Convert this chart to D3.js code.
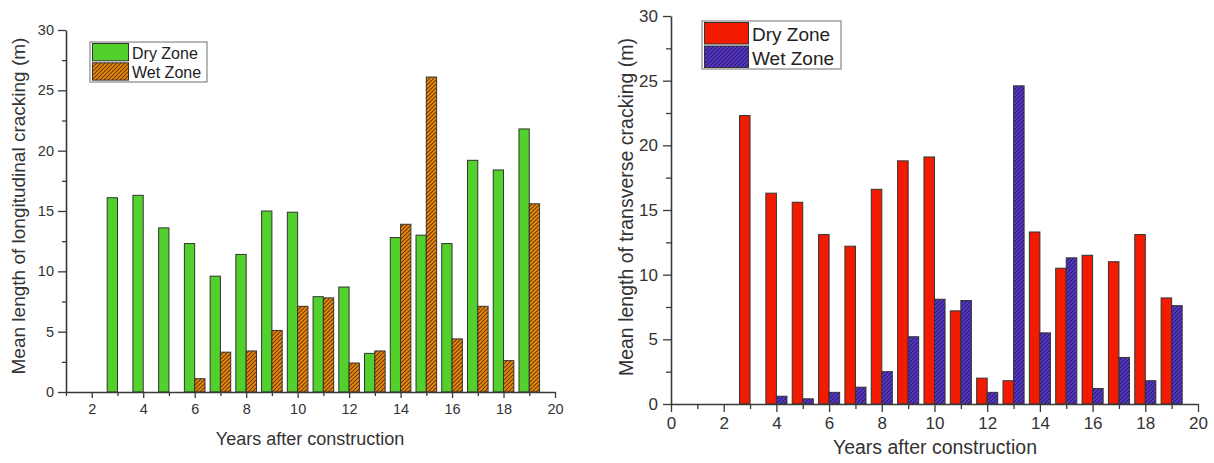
<!DOCTYPE html>
<html>
<head>
<meta charset="utf-8">
<script src="https://cdn.jsdelivr.net/npm/d3@7"></script>
<style>
  html, body { margin: 0; padding: 0; background: #fff; }
  svg { display: block; font-family: "Liberation Sans", Arial, sans-serif; }
</style>
</head>
<body>
<svg id="chart" width="1214" height="463"></svg>
<script>
// ---------- data ----------
const years = [3,4,5,6,7,8,9,10,11,12,13,14,15,16,17,18,19];
const longDry = [16.1,16.3,13.6,12.3,9.6,11.4,15.0,14.9,7.9,8.7,3.2,12.8,13.0,12.3,19.2,18.4,21.8];
const longWet = [null,null,null,1.1,3.3,3.4,5.1,7.1,7.8,2.4,3.4,13.9,26.1,4.4,7.1,2.6,15.6];
const transDry = [22.3,16.3,15.6,13.1,12.2,16.6,18.8,19.1,7.2,2.0,1.8,13.3,10.5,11.5,11.0,13.1,8.2];
const transWet = [null,0.6,0.4,0.9,1.3,2.5,5.2,8.1,8.0,0.9,24.6,5.5,11.3,1.2,3.6,1.8,7.6];
const seriesNames = ["Dry Zone", "Wet Zone"];
const leftXTicks = [2,4,6,8,10,12,14,16,18,20];
const rightXTicks = [0,2,4,6,8,10,12,14,16,18,20];
const yTicks = [0,5,10,15,20,25,30];
const xTitle = "Years after construction";
const leftYTitle = "Mean length of longitudinal cracking (m)";
const rightYTitle = "Mean length of transverse cracking (m)";

const svg = d3.select("#chart");
const defs = svg.append("defs");

function hatch(id, base, line) {
  const p = defs.append("pattern").attr("id", id)
    .attr("patternUnits", "userSpaceOnUse").attr("width", 4).attr("height", 4);
  p.append("rect").attr("width", 4).attr("height", 4).attr("fill", base);
  p.append("path").attr("d", "M-1,1 l2,-2 M0,4 l4,-4 M3,5 l2,-2")
    .attr("stroke", line).attr("stroke-width", 1.1);
}
hatch("hOrange", "#ee8a10", "#6a3a00");
hatch("hBlue", "#5a3cc4", "#2a1478");

const axisColor = "#3a3a3a";

function drawChart(cfg) {
  const g = svg.append("g");
  const x = d3.scaleLinear().domain(cfg.xDomain).range(cfg.xRange);
  const y = d3.scaleLinear().domain([0, 30]).range(cfg.yRange);
  const barW = 0.4;

  // bars
  const dryData = years.map((yr, i) => ({yr, v: cfg.dry[i]})).filter(d => d.v != null);
  const wetData = years.map((yr, i) => ({yr, v: cfg.wet[i]})).filter(d => d.v != null);
  g.selectAll(".dry").data(dryData).enter().append("rect")
    .attr("x", d => x(d.yr - barW)).attr("width", d => x(d.yr) - x(d.yr - barW))
    .attr("y", d => y(d.v)).attr("height", d => y(0) - y(d.v))
    .attr("fill", cfg.dryFill).attr("stroke", "#333").attr("stroke-width", 1);
  g.selectAll(".wet").data(wetData).enter().append("rect")
    .attr("x", d => x(d.yr)).attr("width", d => x(d.yr + barW) - x(d.yr))
    .attr("y", d => y(d.v)).attr("height", d => y(0) - y(d.v))
    .attr("fill", cfg.wetFill).attr("stroke", "#333").attr("stroke-width", 1);

  // minor ticks
  const xMinor = d3.range(cfg.xDomain[0], 21).filter(v => v % 2 !== 0);
  const yMinor = d3.range(2.5, 30, 5);
  g.append("g").attr("transform", `translate(0,${y(0)})`)
    .call(d3.axisBottom(x).tickValues(xMinor).tickSize(cfg.minorTick).tickFormat(""))
    .call(a => a.select(".domain").remove())
    .selectAll("line").attr("stroke", axisColor).attr("stroke-width", 1.3);
  g.append("g").attr("transform", `translate(${x(cfg.xDomain[0])},0)`)
    .call(d3.axisLeft(y).tickValues(yMinor).tickSize(cfg.minorTick).tickFormat(""))
    .call(a => a.select(".domain").remove())
    .selectAll("line").attr("stroke", axisColor).attr("stroke-width", 1.3);

  // major axes
  const xa = g.append("g").attr("transform", `translate(0,${y(0)})`)
    .call(d3.axisBottom(x).tickValues(cfg.xTicks).tickSize(cfg.xMajorTick)
      .tickSizeOuter(0).tickPadding(cfg.xPad).tickFormat(d3.format("d")));
  xa.select(".domain").attr("stroke", axisColor).attr("stroke-width", 1.6);
  xa.selectAll("line").attr("stroke", axisColor).attr("stroke-width", 1.3);
  xa.selectAll("text").attr("font-size", cfg.tickFont).attr("fill", "#333")
    .attr("font-family", "Liberation Sans, Arial, sans-serif");

  const ya = g.append("g").attr("transform", `translate(${x(cfg.xDomain[0])},0)`)
    .call(d3.axisLeft(y).tickValues(yTicks).tickSize(8)
      .tickSizeOuter(0).tickPadding(cfg.yPad).tickFormat(d3.format("d")));
  ya.select(".domain").attr("stroke", axisColor).attr("stroke-width", 1.6);
  ya.selectAll("line").attr("stroke", axisColor).attr("stroke-width", 1.3);
  ya.selectAll("text").attr("font-size", cfg.tickFont).attr("fill", "#333")
    .attr("font-family", "Liberation Sans, Arial, sans-serif");

  // titles
  g.append("text").attr("x", cfg.xTitlePos[0]).attr("y", cfg.xTitlePos[1])
    .attr("text-anchor", "middle").attr("font-size", cfg.titleFont).attr("fill", "#333")
    .text(xTitle);
  g.append("text").attr("transform", `translate(${cfg.yTitlePos[0]},${cfg.yTitlePos[1]}) rotate(-90)`)
    .attr("text-anchor", "middle").attr("font-size", cfg.yTitleFont).attr("fill", "#333")
    .text(cfg.yTitle);

  // legend
  const L = cfg.legend;
  const lg = g.append("g");
  lg.append("rect").attr("x", L.x).attr("y", L.y).attr("width", L.w).attr("height", L.h)
    .attr("fill", "#fff").attr("stroke", "#888").attr("stroke-width", 1.2);
  const fills = [cfg.dryFill, cfg.wetFill];
  seriesNames.forEach((name, i) => {
    lg.append("rect").attr("x", L.x + 2.5).attr("y", L.y + 1.5 + i * L.row)
      .attr("width", L.sw).attr("height", L.row - 2)
      .attr("fill", fills[i]).attr("stroke", "#333").attr("stroke-width", 1);
    lg.append("text").attr("x", L.x + L.sw + 6).attr("y", L.y + 1.5 + i * L.row + L.row * 0.8)
      .attr("font-size", L.font).attr("fill", "#222").text(name);
  });
}

drawChart({
  xDomain: [1, 20], xRange: [66, 555], yRange: [392, 30],
  dry: longDry, wet: longWet, dryFill: "#52d12c", wetFill: "url(#hOrange)",
  xTicks: leftXTicks, xMajorTick: 6, minorTick: 4, xPad: 6, yPad: 4, tickFont: 14.5,
  xTitlePos: [310, 445], titleFont: 18,
  yTitle: leftYTitle, yTitlePos: [25, 206], yTitleFont: 19,
  legend: {x: 90, y: 42, w: 117, h: 40, row: 19.3, sw: 36, font: 16}
});

drawChart({
  xDomain: [0, 20], xRange: [671, 1198], yRange: [404, 16],
  dry: transDry, wet: transWet, dryFill: "#f21b00", wetFill: "url(#hBlue)",
  xTicks: rightXTicks, xMajorTick: 8, minorTick: 5, xPad: 5, yPad: 5, tickFont: 17,
  xTitlePos: [935, 454], titleFont: 19.5,
  yTitle: rightYTitle, yTitlePos: [633, 207], yTitleFont: 19.5,
  legend: {x: 702, y: 21, w: 139, h: 48, row: 23.5, sw: 44, font: 19}
});
</script>
</body>
</html>
